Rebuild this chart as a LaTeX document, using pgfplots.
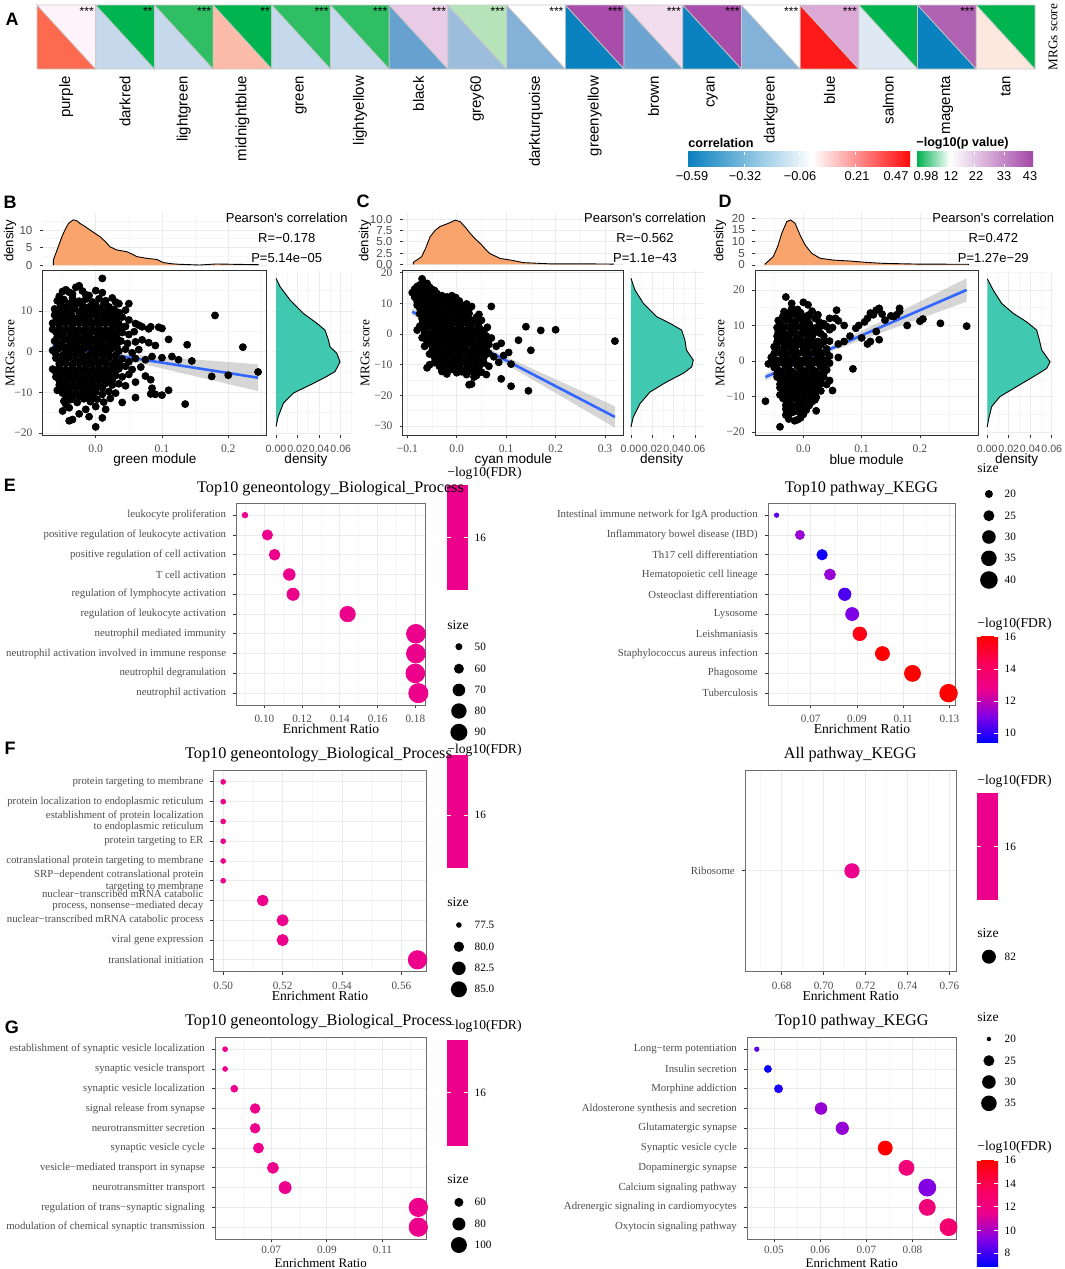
\documentclass[border=0pt]{standalone}
\usepackage{fontspec}
\setmainfont{Liberation Serif}
\newfontfamily\arial{Liberation Sans}
\usepackage{pgfplots}
\pgfplotsset{compat=1.18}
\newcommand\fs[1]{\fontsize{#1}{#1}\selectfont}

\definecolor{c20}{HTML}{333333}
\definecolor{c30}{HTML}{4D4D4D}
\definecolor{c60}{HTML}{6E6E6E}
\definecolor{gmaj}{HTML}{EBEBEB}
\definecolor{gmin}{HTML}{F5F5F5}
\definecolor{orng}{HTML}{F8A46C}
\definecolor{tealc}{HTML}{40C9B0}
\definecolor{smblue}{HTML}{3366FF}
\definecolor{bandc}{HTML}{999999}
\definecolor{cellln}{HTML}{C8C8C8}
\definecolor{cblue}{HTML}{0A80C0}
\definecolor{cred}{HTML}{FF0A0A}
\definecolor{pgreen}{HTML}{00B050}
\definecolor{ppurp}{HTML}{A347A6}
\definecolor{fdr0}{RGB}{0,0,255}
\definecolor{fdr1}{RGB}{130,0,230}
\definecolor{fdr2}{RGB}{236,0,140}
\definecolor{fdr3}{RGB}{250,0,90}
\definecolor{fdr4}{RGB}{255,0,0}
% heatmap: lower = correlation, upper = -log10 p
\definecolor{lA}{HTML}{FE6A50}\definecolor{uA}{HTML}{FDF3F9}
\definecolor{lB}{HTML}{C6D8EC}\definecolor{uB}{HTML}{00B450}
\definecolor{uC}{HTML}{2FBE63}
\definecolor{lD}{HTML}{FDBCAA}
\definecolor{lG}{HTML}{66A1CF}\definecolor{uG}{HTML}{E9CBE6}
\definecolor{lH}{HTML}{9DBDDD}\definecolor{uH}{HTML}{B6E3B9}
\definecolor{lI}{HTML}{84B1D8}\definecolor{uI}{HTML}{FFFFFF}
\definecolor{lJ}{HTML}{0A82C0}\definecolor{uJ}{HTML}{A84DA9}
\definecolor{lK}{HTML}{6EA4D1}\definecolor{uK}{HTML}{F1DDEE}
\definecolor{lN}{HTML}{FF1A1A}\definecolor{uN}{HTML}{DCA9D6}
\definecolor{lO}{HTML}{DEE9F4}
\definecolor{uP}{HTML}{B062B3}
\definecolor{lQ}{HTML}{FDE8E0}

\pgfdeclareverticalshading{fdrsh}{100bp}{color(0bp)=(fdr0); color(25bp)=(fdr0); color(37.5bp)=(fdr1); color(50bp)=(fdr2); color(62.5bp)=(fdr3); color(75bp)=(fdr4); color(100bp)=(fdr4)}

\newcommand\hcell[5]{%
  \addplot[fill=#3, draw=cellln, line width=0.35pt] coordinates {(#1,1) (#1,0) (#2,0)} --cycle;
  \addplot[fill=#4, draw=cellln, line width=0.35pt] coordinates {(#1,1) (#2,1) (#2,0)} --cycle;
  \node[anchor=north east, inner sep=0.8pt, font=\arial\fs{6pt}] at (axis cs:#2,1) {#5};}
\newcommand\sleg[5]{\fill[black] (#1,#2) circle[radius=#3pt];
  \node[anchor=west, inner sep=0pt, font=\fs{5.6pt}] at (#4,#2) {#5};}
\newcommand\cbtick[3]{\draw[white, line width=0.4pt] (#1,#3) -- ++(4,0) (#2,#3) -- ++(-4,0);}

\pgfplotsset{
  base/.style={scale only axis, anchor=north west, tick align=outside, tick pos=left,
    scaled ticks=false,
    major tick length=1.6pt, minor tick length=0pt, tick style={c20, line width=0.4pt},
    grid=both, major grid style={gmaj, line width=0.4pt}, minor grid style={gmin, line width=0.3pt}},
  scat/.style={base, axis line style={c20, line width=0.5pt},
    tick label style={font=\fs{5.8pt}, text=c30}},
  topd/.style={base, axis line style={draw=none}, xmajorticks=false,
    tick label style={font=\arial\fs{5.8pt}, text=c30}},
  rightd/.style={base, axis line style={draw=none}, ymajorticks=false,
    tick label style={font=\arial\fs{5.3pt}, text=c30},
    xtick={0,0.02,0.04,0.06}, xticklabels={0.00,0.02,0.04,0.06}, minor xtick={0.01,0.03,0.05,0.07}},
  dot/.style={base, axis line style={c60, line width=0.5pt}, ymin=0.4, ymax=10.6, ytick={1,...,10},
    tick label style={font=\fs{5.6pt}, text=c30},
    yticklabel style={align=right, font=\fontsize{5.4pt}{5.8pt}\selectfont},
    colormap={fdr}{rgb255=(0,0,255) rgb255=(130,0,230) rgb255=(236,0,140) rgb255=(250,0,90) rgb255=(255,0,0)}},
  dotpts/.style={scatter, only marks, mark=*, point meta=\thisrow{f},
    scatter/use mapped color={draw=mapped color, fill=mapped color},
    visualization depends on={\thisrow{r}\as\rr},
    scatter/@pre marker code/.append style={/tikz/mark size=\rr}},
  pts/.style={only marks, mark=*, mark size=1.75pt, mark options={draw=black, fill=black}},
}

\begin{document}
\begin{tikzpicture}
\path[use as bounding box] (0,0) rectangle (532.5pt,-634.5pt);

% ---------- A: heatmap ----------
\begin{axis}[scale only axis, anchor=north west, at={(18.5pt,-2.5pt)}, width=499pt, height=32pt,
  xmin=0, xmax=17, ymin=0, ymax=1, axis line style={draw=none}, ytick=\empty,
  xtick={0.5,1.5,...,16.5}, major tick length=0pt, clip=false,
  xticklabels={purple,darkred,lightgreen,midnightblue,green,lightyellow,black,grey60,darkturquoise,greenyellow,brown,cyan,darkgreen,blue,salmon,magenta,tan},
  xticklabel style={rotate=90, anchor=east, font=\arial\fs{7.5pt}}]
\hcell{0}{1}{lA}{uA}{***}
\hcell{1}{2}{lB}{uB}{**}
\hcell{2}{3}{lB}{uC}{***}
\hcell{3}{4}{lD}{uB}{**}
\hcell{4}{5}{lB}{uC}{***}
\hcell{5}{6}{lB}{uC}{***}
\hcell{6}{7}{lG}{uG}{***}
\hcell{7}{8}{lH}{uH}{***}
\hcell{8}{9}{lI}{uI}{***}
\hcell{9}{10}{lJ}{uJ}{***}
\hcell{10}{11}{lK}{uK}{***}
\hcell{11}{12}{lJ}{uJ}{***}
\hcell{12}{13}{lI}{uI}{***}
\hcell{13}{14}{lN}{uN}{***}
\hcell{14}{15}{lO}{uB}{}
\hcell{15}{16}{lJ}{uP}{***}
\hcell{16}{17}{lQ}{uB}{}
\end{axis}

% ---------- B ----------
\begin{axis}[topd, at={(21.35pt,-106.5pt)}, width=112pt, height=27pt,
  xmin=-0.08, xmax=0.258, ymin=-0.57, ymax=14.86,
  xtick={0,0.1,0.2}, minor xtick={-0.05,0.05,0.15,0.25},
  ytick={0,5,10}, yticklabels={0,5,10}, minor ytick={2.5,7.5,12.5}]
\addplot[fill=orng, draw=black, line width=0.45pt] coordinates {(-0.064,0) (-0.064,1.4) (-0.061,2.9) (-0.056,5.5) (-0.051,8.1) (-0.046,10.2) (-0.041,11.9) (-0.034,12.9) (-0.028,12.6) (-0.024,11.9) (-0.016,11.0) (-0.0086,10) (0.0065,8.1) (0.015,6.6) (0.0216,5.2) (0.0317,4.3) (0.047,3.8) (0.055,3.1) (0.062,2.4) (0.077,1.9) (0.092,1.6) (0.102,0.7) (0.115,0.35) (0.127,0.2) (0.157,0.0) (0.182,0.3) (0.208,0.2) (0.245,0.1) (0.245,0)};
\end{axis}
\begin{axis}[scat, at={(21.35pt,-135.35pt)}, width=112pt, height=82.15pt,
  xmin=-0.08, xmax=0.258, ymin=-20.5, ymax=19.9,
  xtick={0,0.1,0.2}, xticklabels={0.0,0.1,0.2}, minor xtick={-0.05,0.05,0.15,0.25},
  ytick={-20,-10,0,10}, yticklabels={−20,−10,0,10}, minor ytick={-15,-5,5,15}]
\addplot[pts] coordinates {
(0.01,18) (-0.045,15.2) (-0.03,15.8) (-0.04,14.6) (-0.02,14.9) (-0.055,13.6) (0.01,14.5) (-0.01,13.8) (-0.05,14.8)
(-0.058,12.5) (-0.048,12.8) (-0.035,13.2) (-0.025,12.4) (-0.015,12.9) (-0.005,12.2) (0.005,13) (0.015,12.5) (0.035,11.8) (0.05,11.8) (0.025,13.2) (-0.04,11.8) (0,11.5) (0.02,11)
(-0.062,10.5) (-0.052,10.8) (-0.042,10.2) (-0.032,10.6) (-0.022,10.1) (-0.012,10.8) (-0.002,10.3) (0.008,10.6) (0.018,9.9) (0.028,10.4) (0.045,10.2) (-0.057,9.4) (-0.037,9.2)
(-0.06,8.6) (-0.05,8.2) (-0.04,8.8) (-0.03,8.1) (-0.02,8.7) (-0.01,8.3) (0,8.9) (0.01,8.2) (0.02,8.6) (0.03,8.3) (0.04,8.5) (0.05,7.8) (-0.025,9.5) (0.015,9.3) (0.18,8.9)
(-0.065,7) (-0.055,6.5) (-0.045,7.1) (-0.035,6.4) (-0.025,7) (-0.015,6.3) (-0.005,6.9) (0.005,6.4) (0.015,7) (0.025,6.3) (0.035,6.8) (0.045,6.2) (0.06,6.9) (0.065,6.5) (0.07,6.1) (0.08,5.6) (0.095,6) (0.1,5.7) (0.083,6.1)
(-0.06,4.8) (-0.05,4.2) (-0.04,4.9) (-0.03,4.3) (-0.02,4.7) (-0.01,4.1) (0,4.8) (0.01,4.3) (0.02,4.6) (0.03,4.1) (0.04,4.7) (0.05,4.2) (0.058,4.9) (-0.065,5.5)
(-0.062,2.6) (-0.052,2.1) (-0.042,2.8) (-0.032,2.2) (-0.022,2.7) (-0.012,2.0) (-0.002,2.6) (0.008,2.1) (0.018,2.8) (0.028,2.3) (0.038,2.6) (0.048,2.0) (0.06,2.4) (0.07,2.9) (0.09,1.5) (0.11,3) (0.138,1.7) (0.08,2.2)
(-0.065,0.3) (-0.055,0.8) (-0.045,0.1) (-0.035,0.7) (-0.025,0.2) (-0.015,0.9) (-0.005,0.1) (0.005,0.6) (0.015,0.2) (0.025,0.8) (0.035,0.1) (0.045,0.6) (0.055,-0.3) (0.065,0.5) (0.222,1.1)
(-0.06,-1.6) (-0.05,-2.1) (-0.04,-1.5) (-0.03,-2.2) (-0.02,-1.7) (-0.01,-2.3) (0,-1.6) (0.01,-2.2) (0.02,-1.5) (0.03,-2.3) (0.04,-1.8) (0.05,-2.5) (0.06,-1.7) (0.075,-2.0) (0.1,-1.5) (0.115,-1.2) (0.125,-2) (0.145,-2.3) (0.085,-1.2)
(-0.065,-4.3) (-0.055,-3.8) (-0.045,-4.5) (-0.035,-3.9) (-0.025,-4.4) (-0.015,-3.8) (-0.005,-4.5) (0.005,-3.9) (0.015,-4.4) (0.025,-3.7) (0.035,-4.2) (0.045,-3.6) (0.055,-4.4) (0.068,-3.8)
(-0.06,-6.2) (-0.05,-5.8) (-0.04,-6.4) (-0.03,-5.7) (-0.02,-6.3) (-0.01,-5.9) (0,-6.5) (0.01,-5.8) (0.02,-6.4) (0.03,-5.9) (0.04,-6.2) (0.05,-5.6) (0.075,-6.0) (0.083,-6.9) (0.175,-6.1) (0.2,-5.8) (0.245,-5)
(-0.055,-8.2) (-0.045,-7.8) (-0.035,-8.4) (-0.025,-7.7) (-0.015,-8.3) (-0.005,-7.9) (0.005,-8.5) (0.015,-7.8) (0.025,-8.2) (0.035,-7.9) (0.045,-8.4) (0.06,-7.5) (0.085,-9.0)
(-0.05,-10.2) (-0.04,-9.8) (-0.03,-10.4) (-0.02,-9.7) (-0.01,-10.3) (0,-9.9) (0.01,-10.5) (0.02,-9.8) (0.03,-10.2) (0.09,-10.5) (0.1,-10.7) (0.11,-9.5) (0.083,-10.4) (-0.058,-9.5)
(-0.048,-12.2) (-0.038,-11.8) (-0.028,-12.5) (-0.018,-11.6) (-0.008,-12.3) (0.002,-11.7) (0.012,-12.4) (0.06,-11.3) (0.04,-12.5) (0.135,-12.9) (0.022,-11.5)
(-0.05,-14.6) (-0.04,-13.8) (-0.025,-15.3) (-0.015,-14.2) (0,-13.5) (0.015,-14.2) (0.01,-16.3) (-0.04,-17) (-0.035,-16.7) (-0.01,-16) (0,-18.5) (-0.045,-13)
(-0.035,14.2) (-0.015,14.0) (0.0,15.0) (-0.025,16.2)
(-0.053,11.5) (-0.043,11.2) (-0.03,11.7) (-0.02,11.4) (-0.008,11.2) (0.012,11.6) (0.03,12.2)
(-0.062,9.0) (-0.047,9.6) (-0.015,9.7) (-0.005,9.5) (0.005,9.8) (0.025,9.2) (0.035,9.6)
(-0.058,7.6) (-0.048,7.5) (-0.038,7.6) (-0.028,7.4) (-0.018,7.7) (-0.008,7.5) (0.002,7.6) (0.012,7.4) (0.022,7.6) (0.032,7.4)
(-0.055,5.6) (-0.045,5.5) (-0.035,5.7) (-0.025,5.4) (-0.015,5.6) (-0.005,5.5) (0.005,5.6) (0.015,5.4) (0.025,5.5) (0.035,5.6)
(-0.058,3.6) (-0.048,3.4) (-0.038,3.6) (-0.028,3.3) (-0.018,3.5) (-0.008,3.3) (0.002,3.6) (0.012,3.4) (0.022,3.5) (0.032,3.3)
(-0.058,1.4) (-0.048,1.2) (-0.038,1.5) (-0.028,1.3) (-0.018,1.4) (-0.008,1.2) (0.002,1.4) (0.012,1.3) (0.022,1.5) (0.032,1.2)
(-0.06,-0.7) (-0.05,-0.9) (-0.04,-0.6) (-0.03,-0.8) (-0.02,-0.7) (-0.01,-0.9) (0.0,-0.6) (0.01,-0.8) (0.02,-0.7) (0.03,-0.9)
(-0.055,-3.0) (-0.045,-2.9) (-0.035,-3.1) (-0.025,-2.9) (-0.015,-3.0) (-0.005,-3.1) (0.005,-2.9) (0.015,-3.0) (0.025,-3.1) (0.035,-2.9)
(-0.06,-5.1) (-0.05,-5.0) (-0.04,-5.2) (-0.03,-4.9) (-0.02,-5.1) (-0.01,-5.0) (0.0,-5.2) (0.01,-5.0) (0.02,-5.1) (0.03,-4.9)
(-0.055,-7.1) (-0.045,-6.9) (-0.035,-7.1) (-0.025,-7.0) (-0.015,-7.1) (-0.005,-6.9) (0.005,-7.0) (0.015,-7.1) (0.025,-7.0)
(-0.05,-9.0) (-0.04,-9.1) (-0.03,-8.9) (-0.02,-9.1) (-0.01,-9.0) (0.0,-9.1) (0.01,-8.9)
(-0.045,-11.0) (-0.035,-11.1) (-0.025,-10.9) (-0.015,-11.1) (-0.005,-11.0)};
\addplot[draw=none, fill=bandc, fill opacity=0.4] coordinates {(-0.065,2.5) (-0.03,1.25) (0,0.34) (0.05,-0.62) (0.1,-1.29) (0.15,-1.93) (0.2,-2.55) (0.245,-3.11) (0.245,-9.71) (0.2,-7.97) (0.15,-6.05) (0.1,-4.13) (0.05,-2.26) (0,-0.66) (-0.03,-0.05) (-0.065,0.5)} --cycle;
\addplot[smblue, line width=1.3pt] coordinates {(-0.065,1.5) (0.245,-6.41)};
\end{axis}
\begin{axis}[rightd, at={(136.5pt,-135.35pt)}, width=40.15pt, height=82.15pt,
  xmin=-0.0028, xmax=0.0716, ymin=-20.5, ymax=19.9,
  ytick={-20,-10,0,10}, minor ytick={-15,-5,5,15}]
\addplot[fill=tealc, draw=black, line width=0.45pt] coordinates {(0,18) (0.0037,16.0) (0.013,12.7) (0.0253,9.4) (0.0377,7.0) (0.0454,5.3) (0.0485,2.9) (0.050,1.2) (0.0563,-0.4) (0.0593,-2.5) (0.0547,-4.9) (0.047,-6.1) (0.0346,-7.8) (0.016,-10.2) (0.0068,-12.7) (0.002,-16) (0,-18.4)};
\end{axis}

% ---------- C ----------
\begin{axis}[topd, at={(201.35pt,-106.5pt)}, width=110.3pt, height=27pt,
  xmin=-0.1093, xmax=0.337, ymin=-0.6, ymax=11.4,
  xtick={-0.1,0,0.1,0.2,0.3}, minor xtick={-0.05,0.05,0.15,0.25},
  ytick={0,2.5,5,7.5,10}, yticklabels={0.0,2.5,5.0,7.5,10.0}]
\addplot[fill=orng, draw=black, line width=0.45pt] coordinates {(-0.0878,0) (-0.0878,0.44) (-0.0709,1.7) (-0.062,3.8) (-0.054,6.1) (-0.044,7.5) (-0.0338,8.4) (-0.017,9.1) (-0.0034,9.8) (0.0067,9.5) (0.017,8.3) (0.027,6.9) (0.037,5.7) (0.047,4.7) (0.057,3.5) (0.067,2.4) (0.0877,1.3) (0.108,0.96) (0.135,0.37) (0.189,0.1) (0.256,0.1) (0.317,0.05) (0.317,0)};
\end{axis}
\begin{axis}[scat, at={(201.35pt,-135.35pt)}, width=110.3pt, height=82.15pt,
  xmin=-0.1093, xmax=0.337, ymin=-32.9, ymax=20.65,
  xtick={-0.1,0,0.1,0.2,0.3}, xticklabels={−0.1,0.0,0.1,0.2,0.3}, minor xtick={-0.05,0.05,0.15,0.25},
  ytick={-30,-20,-10,0,10,20}, yticklabels={−30,−20,−10,0,10,20}, minor ytick={-25,-15,-5,5,15}]
\addplot[pts] coordinates {
(-0.07,18) (-0.065,15.5) (-0.075,16) (-0.06,16.5) (-0.055,15.3) (-0.05,14.5)
(-0.09,13.5) (-0.085,14.7) (-0.08,13.2) (-0.07,14) (-0.06,13.5) (-0.05,13) (-0.04,13.2) (-0.03,12.5) (-0.045,14.2)
(-0.08,10.5) (-0.072,11.5) (-0.065,10.8) (-0.055,11.7) (-0.045,10.6) (-0.035,11.3) (-0.025,10.5) (-0.015,11) (-0.005,11.6) (0.005,10.8) (-0.002,11.9)
(-0.075,8.5) (-0.065,7.6) (-0.055,8.8) (-0.045,7.8) (-0.035,8.6) (-0.025,7.5) (-0.015,8.5) (-0.005,7.7) (0.005,8.7) (0.015,7.6) (0.025,8.2) (0.03,9) (0.01,9.4) (-0.07,9.3)
(-0.07,5) (-0.06,5.8) (-0.05,4.6) (-0.04,5.7) (-0.03,4.5) (-0.02,5.6) (-0.01,4.4) (0,5.5) (0.01,4.6) (0.02,5.4) (0.03,4.5) (0.04,5.5) (0.05,4.5) (0.045,6.4) (-0.065,4.2) (0.07,9)
(-0.075,2.5) (-0.065,1.5) (-0.055,2.6) (-0.045,1.4) (-0.035,2.5) (-0.025,1.3) (-0.015,2.4) (-0.005,1.2) (0.005,2.3) (0.015,1.1) (0.025,2.2) (0.035,1.2) (0.045,2.3) (0.055,1.0) (0.062,2.2) (-0.08,1.3) (0.14,2.4) (0.17,1.2) (0.2,1.4)
(-0.07,-1.2) (-0.06,-0.3) (-0.05,-1.5) (-0.04,-0.4) (-0.03,-1.6) (-0.02,-0.5) (-0.01,-1.7) (0,-0.6) (0.01,-1.8) (0.02,-0.5) (0.03,-1.6) (0.04,-0.4) (0.05,-1.5) (0.06,-0.7) (0.07,-1.3) (0.125,-2) (0.32,-2.3)
(-0.065,-4) (-0.055,-3.2) (-0.045,-4.4) (-0.035,-3.3) (-0.025,-4.5) (-0.015,-3.4) (-0.005,-4.6) (0.005,-3.3) (0.015,-4.5) (0.025,-3.2) (0.035,-4.4) (0.045,-3.5) (0.055,-4.6) (0.065,-3.4) (0.08,-4) (0.15,-5.3) (0.09,-3)
(-0.055,-6.5) (-0.045,-7.5) (-0.035,-6.3) (-0.025,-7.6) (-0.015,-6.4) (-0.005,-7.7) (0.005,-6.5) (0.015,-7.8) (0.025,-6.6) (0.035,-7.6) (0.045,-6.4) (0.055,-7.5) (0.065,-6.3) (0.075,-7.4) (0.095,-7) (0.105,-6)
(-0.06,-11) (-0.055,-10) (-0.045,-9.3) (-0.035,-10.5) (-0.025,-9.4) (-0.015,-10.6) (-0.005,-9.5) (0.005,-10.4) (0.015,-9.3) (0.025,-10.6) (0.035,-9.6) (0.045,-10.7) (0.055,-9.4) (0.065,-10.5) (0.11,-9.8) (0.085,-9.2)
(-0.03,-12.2) (-0.02,-13) (0,-12.6) (0.01,-12.3) (0.02,-13.2) (0.03,-12.2) (0.04,-13.5) (0.05,-12.4) (0.06,-13.2) (0.09,-14.6) (0.035,-14)
(0.03,-16.3) (0.025,-16.5) (0.11,-17) (0.145,-18.5)
(-0.08,15.5) (-0.068,16.8) (-0.058,14.7)
(-0.085,12) (-0.075,12.3) (-0.065,12.1) (-0.055,12.4) (-0.045,12.0) (-0.035,12.2) (-0.02,12.1) (-0.01,12.5)
(-0.08,9.4) (-0.06,9.6) (-0.05,9.8) (-0.04,9.5) (-0.03,9.7) (-0.02,9.5) (-0.01,9.6) (0.0,9.4) (0.02,9.8)
(-0.075,6.6) (-0.065,6.4) (-0.055,6.7) (-0.045,6.5) (-0.035,6.6) (-0.025,6.4) (-0.015,6.7) (-0.005,6.5) (0.005,6.6) (0.015,6.4) (0.025,6.7)
(-0.07,3.4) (-0.06,3.6) (-0.05,3.4) (-0.04,3.6) (-0.03,3.4) (-0.02,3.5) (-0.01,3.3) (0,3.6) (0.01,3.4) (0.02,3.5) (0.03,3.3) (0.04,3.6)
(-0.065,0.3) (-0.055,0.1) (-0.045,0.4) (-0.035,0.2) (-0.025,0.3) (-0.015,0.1) (-0.005,0.3) (0.005,0.2) (0.015,0.4) (0.025,0.1) (0.035,0.3) (0.045,0.2) (0.055,0.1)
(-0.06,-2.5) (-0.05,-2.7) (-0.04,-2.5) (-0.03,-2.6) (-0.02,-2.7) (-0.01,-2.5) (0,-2.6) (0.01,-2.7) (0.02,-2.5) (0.03,-2.6) (0.04,-2.7) (0.05,-2.5) (0.06,-2.6)
(-0.05,-5.5) (-0.04,-5.3) (-0.03,-5.6) (-0.02,-5.4) (-0.01,-5.6) (0,-5.3) (0.01,-5.5) (0.02,-5.4) (0.03,-5.6) (0.04,-5.4) (0.05,-5.5) (0.06,-5.3)
(-0.04,-8.6) (-0.03,-8.4) (-0.02,-8.6) (-0.01,-8.5) (0,-8.6) (0.01,-8.4) (0.02,-8.6) (0.03,-8.5) (0.04,-8.6) (0.05,-8.4)
(-0.03,-11.4) (-0.02,-11.6) (-0.01,-11.5) (0,-11.4) (0.01,-11.6) (0.02,-11.5) (0.03,-11.4) (0.04,-11.6)};
\addplot[draw=none, fill=bandc, fill opacity=0.4] coordinates {(-0.09,8.44) (-0.045,4.29) (0,0.37) (0.05,-3.65) (0.1,-7.37) (0.15,-11.07) (0.2,-14.73) (0.26,-19.11) (0.32,-23.51) (0.32,-30.51) (0.26,-24.87) (0.2,-19.21) (0.15,-14.51) (0.1,-9.83) (0.05,-5.19) (0,-0.83) (-0.045,2.79) (-0.09,6.16)} --cycle;
\addplot[smblue, line width=1.3pt] coordinates {(-0.09,7.3) (0.32,-27.01)};
\end{axis}
\begin{axis}[rightd, at={(315pt,-135.35pt)}, width=36.65pt, height=82.15pt,
  xmin=-0.0009, xmax=0.0678, ymin=-32.9, ymax=20.65,
  ytick={-30,-20,-10,0,10,20}, minor ytick={-25,-15,-5,5,15}]
\addplot[fill=tealc, draw=black, line width=0.45pt] coordinates {(0,18.2) (0.0037,14.4) (0.0116,10) (0.024,5.7) (0.0366,3.5) (0.0475,1.3) (0.0506,-2) (0.052,-5.2) (0.0584,-8.5) (0.057,-10.7) (0.049,-12.8) (0.0334,-15.6) (0.0178,-18.9) (0.0084,-22.7) (0.0022,-27) (0,-30.3)};
\end{axis}

% ---------- D ----------
\begin{axis}[topd, at={(377.5pt,-106.5pt)}, width=111.65pt, height=27pt,
  xmin=-0.0829, xmax=0.300, ymin=-0.86, ymax=22.3,
  xtick={0,0.1,0.2}, minor xtick={-0.05,0.05,0.15,0.25},
  ytick={0,5,10,15,20}, yticklabels={0,5,10,15,20}]
\addplot[fill=orng, draw=black, line width=0.45pt] coordinates {(-0.0657,0) (-0.0657,0.43) (-0.0515,3.6) (-0.044,8) (-0.037,13.6) (-0.0285,18.6) (-0.0216,19.3) (-0.0142,17.9) (-0.0057,12.9) (0.003,8.6) (0.0144,5) (0.0286,2.9) (0.0515,2.1) (0.080,1.7) (0.109,1.1) (0.137,0.7) (0.194,0.4) (0.283,0.3) (0.283,0)};
\end{axis}
\begin{axis}[scat, at={(377.5pt,-135.35pt)}, width=111.65pt, height=82.15pt,
  xmin=-0.0829, xmax=0.300, ymin=-20.8, ymax=25.4,
  xtick={0,0.1,0.2}, xticklabels={0.0,0.1,0.2}, minor xtick={-0.05,0.05,0.15,0.25},
  ytick={-20,-10,0,10,20}, yticklabels={−20,−10,0,10,20}, minor ytick={-15,-5,5,15,25}]
\addplot[pts] coordinates {
(-0.03,18) (-0.02,14.7) (0.008,15.8) (0.015,14) (-0.01,14.5) (-0.025,13.5)
(-0.04,10.3) (-0.03,11.5) (-0.02,10.8) (-0.01,12.2) (0,11) (0.01,10.5) (0.02,12) (0.03,9.8) (0.035,10.5) (-0.035,9.5)
(-0.045,7) (-0.035,8.2) (-0.025,6.7) (-0.015,8.4) (-0.005,6.6) (0.005,8.3) (0.015,6.8) (0.025,8.1) (0.035,7) (0.045,8.8) (0.05,9.4) (-0.04,5.9) (0.055,12) (0.06,11.3) (0.057,14.3) (0.045,12) (0.07,10)
(-0.05,4) (-0.04,3.2) (-0.03,4.4) (-0.02,3.3) (-0.01,4.5) (0,3.1) (0.01,4.3) (0.02,3.2) (0.03,4.6) (0.04,3.4) (0.06,4.8) (0.07,5.5) (0.08,7) (0.09,9.2) (0.1,6.5) (0.11,4.8) (0.115,5.5) (0.125,8.3) (0.13,6)
(-0.055,1) (-0.045,0.2) (-0.035,1.4) (-0.025,0.3) (-0.015,1.5) (-0.005,0.2) (0.005,1.3) (0.015,0.1) (0.025,1.2) (0.035,0.3) (0.045,1.4) (0.06,1) (-0.06,-0.8)
(-0.05,-1.8) (-0.04,-2.8) (-0.03,-1.6) (-0.02,-2.9) (-0.01,-1.5) (0,-2.7) (0.01,-1.6) (0.02,-2.8) (0.03,-1.7) (0.04,-2.5) (0.085,-2.2)
(-0.045,-4.5) (-0.035,-5.5) (-0.025,-4.3) (-0.015,-5.6) (-0.005,-4.4) (0.005,-5.5) (0.015,-4.3) (0.025,-5.4) (0.035,-4.5) (0.045,-5.5) (0.05,-8.3) (0.04,-6.6)
(-0.04,-7.5) (-0.03,-8.6) (-0.02,-7.4) (-0.01,-8.7) (0,-7.3) (0.01,-8.5) (0.02,-7.6) (0.03,-8.4) (-0.035,-6.8)
(-0.035,-10.5) (-0.025,-11.5) (-0.015,-10.3) (-0.005,-11.6) (0.005,-10.4) (0.015,-11.4) (0.022,-10.2) (-0.065,-11.3) (0.022,-14)
(-0.03,-13.5) (-0.02,-14.5) (-0.01,-13.2) (0,-15) (-0.01,-16.5) (-0.03,-15.2) (-0.015,-16.8) (-0.04,-18.5) (-0.005,-14)
(0.28,9.8) (0.235,10.6) (0.205,11.8) (0.2,11.2) (0.178,10) (0.165,14.8) (0.16,13) (0.155,12.5) (0.13,14.8) (0.125,14.3) (0.12,13) (0.11,12) (0.14,11.5) (0.15,12.7) (0.095,10) (0.105,11) (0.115,13.5) (0.165,14) (0.135,13.2)
(-0.02,16.2) (0.0,16.5)
(-0.035,12.6) (-0.025,12.8) (-0.015,13.2) (0.005,12.6) (0.025,13.0)
(-0.045,9.4) (-0.03,9.6) (-0.02,9.3) (-0.01,9.7) (0,9.4) (0.01,9.6) (0.02,9.3) (0.04,9.7)
(-0.045,5.4) (-0.035,5.6) (-0.025,5.3) (-0.015,5.6) (-0.005,5.4) (0.005,5.6) (0.015,5.3) (0.025,5.5) (0.035,5.4) (0.045,5.6)
(-0.05,2.1) (-0.04,2.3) (-0.03,2.0) (-0.02,2.2) (-0.01,2.1) (0,2.3) (0.01,2.0) (0.02,2.2) (0.03,2.1) (0.04,2.3)
(-0.055,-0.6) (-0.045,-0.8) (-0.035,-0.6) (-0.025,-0.8) (-0.015,-0.6) (-0.005,-0.8) (0.005,-0.6) (0.015,-0.8) (0.025,-0.6) (0.035,-0.8) (0.045,-0.6)
(-0.045,-3.6) (-0.035,-3.5) (-0.025,-3.7) (-0.015,-3.5) (-0.005,-3.7) (0.005,-3.5) (0.015,-3.7) (0.025,-3.6) (0.035,-3.5)
(-0.04,-6.5) (-0.03,-6.3) (-0.02,-6.5) (-0.01,-6.3) (0,-6.5) (0.01,-6.3) (0.02,-6.5) (0.03,-6.4)
(-0.04,-9.5) (-0.03,-9.6) (-0.02,-9.4) (-0.01,-9.6) (0,-9.4) (0.01,-9.5) (0.02,-9.6)
(-0.03,-12.4) (-0.02,-12.6) (-0.01,-12.4) (0,-12.6) (0.01,-12.5)
(-0.033,13.9) (-0.005,13.6) (0.01,13.0)
(-0.043,11.4) (-0.023,11.8) (-0.013,10.9) (-0.003,11.9) (0.007,11.5) (0.027,11.0)
(-0.043,8.1) (-0.033,7.4) (-0.023,7.8) (-0.013,7.3) (-0.003,7.9) (0.007,7.3) (0.017,7.9) (0.03,7.7)
(-0.045,4.8) (-0.033,4.9) (-0.023,4.6) (-0.013,4.9) (-0.003,4.6) (0.007,4.8) (0.017,4.6) (0.027,4.4)
(-0.043,2.8) (-0.033,3.2) (-0.013,2.8) (0.007,2.8) (0.027,2.9)
(-0.05,0) (-0.04,-0.2) (-0.03,0.2) (-0.02,-0.1) (-0.01,0) (0,-0.2) (0.01,0.1) (0.02,-0.2) (0.03,0.1) (0.04,-0.1)
(-0.045,-2.3) (-0.025,-2.2) (-0.005,-2.2) (0.015,-2.3) (0.035,-2.2)
(-0.04,-5) (-0.03,-4.8) (-0.02,-5) (-0.01,-4.9) (0,-5) (0.01,-4.9) (0.02,-5) (0.03,-4.9)
(-0.035,-8) (-0.025,-7.9) (-0.015,-8) (-0.005,-7.9) (0.005,-8) (0.015,-7.9) (0.025,-8)
(-0.03,-11) (-0.02,-10.8) (-0.01,-11) (0,-10.9) (0.01,-11) (0.02,-10.9)
(-0.025,-14) (-0.015,-14.2) (-0.005,-14.6) (0.005,-13.8)
(-0.025,-16.3) (-0.005,-16)};
\addplot[draw=none, fill=bandc, fill opacity=0.4] coordinates {(-0.065,-3.57) (-0.03,-1.38) (0,0.67) (0.05,4.47) (0.1,8.5) (0.15,12.6) (0.2,16.71) (0.28,23.29) (0.28,16.69) (0.2,11.93) (0.15,8.94) (0.1,5.94) (0.05,2.87) (0,-0.43) (-0.03,-2.66) (-0.065,-5.43)} --cycle;
\addplot[smblue, line width=1.3pt] coordinates {(-0.065,-4.5) (0.28,19.99)};
\end{axis}
\begin{axis}[rightd, at={(493.35pt,-135.35pt)}, width=33.15pt, height=82.15pt,
  xmin=-0.00056, xmax=0.0612, ymin=-20.8, ymax=25.4,
  ytick={-20,-10,0,10,20}, minor ytick={-15,-5,5,15,25}]
\addplot[fill=tealc, draw=black, line width=0.45pt] coordinates {(0,23.1) (0.0056,19.9) (0.0134,16.2) (0.0242,13.4) (0.0367,11) (0.046,8.7) (0.0485,5.9) (0.0507,3.1) (0.0584,-0.2) (0.0553,-2.1) (0.043,-4.4) (0.0273,-7.2) (0.0118,-10) (0.0041,-12.8) (0.001,-16.6) (0,-18.5)};
\end{axis}

% ---------- E ----------
\begin{axis}[dot, at={(118.15pt,-251.65pt)}, width=94.7pt, height=100.85pt,
  xmin=0.0851, xmax=0.1855, xtick={0.10,0.12,0.14,0.16,0.18}, xticklabels={0.10,0.12,0.14,0.16,0.18},
  minor xtick={0.09,0.11,0.13,0.15,0.17}, point meta min=15, point meta max=17,
  yticklabels={neutrophil activation,neutrophil degranulation,neutrophil activation involved in immune response,neutrophil mediated immunity,regulation of leukocyte activation,regulation of lymphocyte activation,T cell activation,positive regulation of cell activation,positive regulation of leukocyte activation,leukocyte proliferation}]
\addplot[dotpts] table {
x y r f
0.0897 10 1.4 16
0.1016 9 2.55 16
0.1054 8 2.7 16
0.1132 7 2.9 16
0.1152 6 3.05 16
0.1441 5 3.85 16
0.1803 4 4.7 16
0.1803 3 4.7 16
0.1800 2 4.7 16
0.1816 1 4.8 16
};
\end{axis}
\begin{axis}[dot, at={(384pt,-251.65pt)}, width=93.85pt, height=100.85pt,
  xmin=0.0515, xmax=0.1327, xtick={0.07,0.09,0.11,0.13}, xticklabels={0.07,0.09,0.11,0.13},
  minor xtick={0.06,0.08,0.10,0.12}, point meta min=9.42, point meta max=16,
  yticklabels={Tuberculosis,Phagosome,Staphylococcus aureus infection,Leishmaniasis,Lysosome,Osteoclast differentiation,Hematopoietic cell lineage,Th17 cell differentiation,Inflammatory bowel disease (IBD),Intestinal immune network for IgA production}]
\addplot[dotpts] table {
x y r f
0.0552 10 1.1 10.5
0.0653 9 2.25 11.4
0.0749 8 2.6 9.6
0.0783 7 2.75 11.4
0.0847 6 3.1 10.4
0.0879 5 3.25 11.0
0.0912 4 3.4 15.7
0.1010 3 3.5 16
0.1140 2 4.0 16
0.1296 1 4.4 16
};
\end{axis}

% ---------- F ----------
\begin{axis}[dot, at={(106.85pt,-385pt)}, width=106.35pt, height=100.85pt,
  xmin=0.4968, xmax=0.5684, xtick={0.50,0.52,0.54,0.56}, xticklabels={0.50,0.52,0.54,0.56},
  minor xtick={0.51,0.53,0.55}, point meta min=15, point meta max=17,
  yticklabels={translational initiation,viral gene expression,nuclear−transcribed mRNA catabolic process,{nuclear−transcribed mRNA catabolic\\process, nonsense−mediated decay},{SRP−dependent cotranslational protein\\targeting to membrane},cotranslational protein targeting to membrane,protein targeting to ER,{establishment of protein localization\\to endoplasmic reticulum},protein localization to endoplasmic reticulum,protein targeting to membrane}]
\addplot[dotpts] table {
x y r f
0.5 10 1.2 16
0.5 9 1.2 16
0.5 8 1.2 16
0.5 7 1.2 16
0.5 6 1.2 16
0.5 5 1.2 16
0.5133 4 2.7 16
0.52 3 2.8 16
0.52 2 2.8 16
0.5654 1 4.6 16
};
\end{axis}
\begin{axis}[dot, at={(372.5pt,-385pt)}, width=105.7pt, height=100.85pt,
  xmin=0.6625, xmax=0.7633, ymin=0.4, ymax=1.6, ytick={1}, yticklabels={Ribosome},
  xtick={0.68,0.70,0.72,0.74,0.76}, xticklabels={0.68,0.70,0.72,0.74,0.76},
  minor xtick={0.67,0.69,0.71,0.73,0.75}, point meta min=15, point meta max=17]
\addplot[dotpts] table {
x y r f
0.7135 1 3.6 16
};
\end{axis}

% ---------- G ----------
\begin{axis}[dot, at={(107.55pt,-518.65pt)}, width=105.65pt, height=100.85pt,
  xticklabel shift=-1.5pt,
  xmin=0.0498, xmax=0.1258, xtick={0.07,0.09,0.11}, xticklabels={0.07,0.09,0.11},
  minor xtick={0.06,0.08,0.10,0.12}, point meta min=15, point meta max=17,
  yticklabels={modulation of chemical synaptic transmission,regulation of trans−synaptic signaling,neurotransmitter transport,vesicle−mediated transport in synapse,synaptic vesicle cycle,neurotransmitter secretion,signal release from synapse,synaptic vesicle localization,synaptic vesicle transport,establishment of synaptic vesicle localization}]
\addplot[dotpts] table {
x y r f
0.0534 10 1.2 16
0.0534 9 1.2 16
0.0567 8 1.7 16
0.0642 7 2.4 16
0.0642 6 2.4 16
0.0654 5 2.5 16
0.0706 4 2.75 16
0.0750 3 3.0 16
0.1229 2 4.6 16
0.1229 1 4.6 16
};
\end{axis}
\begin{axis}[dot, at={(373.55pt,-518.65pt)}, width=104.65pt, height=100.85pt,
  xticklabel shift=-1.5pt,
  xmin=0.0442, xmax=0.0895, xtick={0.05,0.06,0.07,0.08}, xticklabels={0.05,0.06,0.07,0.08},
  minor xtick={0.045,0.055,0.065,0.075,0.085}, point meta min=6.9, point meta max=16,
  yticklabels={Oxytocin signaling pathway,Adrenergic signaling in cardiomyocytes,Calcium signaling pathway,Dopaminergic synapse,Synaptic vesicle cycle,Glutamatergic synapse,Aldosterone synthesis and secretion,Morphine addiction,Insulin secretion,Long−term potentiation}]
\addplot[dotpts] table {
x y r f
0.0463 10 1.1 8.5
0.0487 9 1.75 7.1
0.0510 8 2.0 7.4
0.0602 7 2.9 9.6
0.0648 6 3.1 9.6
0.0741 5 3.5 16
0.0787 4 3.75 12.4
0.0832 3 4.25 9.2
0.0832 2 4.0 12.4
0.0878 1 4.25 12.8
};
\end{axis}

% ---------- text, legends ----------
\begin{scope}[x=0.5pt, y=-0.5pt]
\node[font=\arial\bfseries\fs{9pt}] at (12,19) {A};
\node[font=\arial\bfseries\fs{9pt}] at (10,202) {B};
\node[font=\arial\bfseries\fs{9pt}] at (363,201) {C};
\node[font=\arial\bfseries\fs{9pt}] at (725,201) {D};
\node[font=\arial\bfseries\fs{9pt}] at (10,485) {E};
\node[font=\arial\bfseries\fs{9pt}] at (10,748) {F};
\node[font=\arial\bfseries\fs{9pt}] at (12,1027) {G};

\node[rotate=90, font=\fs{6.6pt}] at (1053,37) {MRGs score};
% A legends
\node[anchor=west, inner sep=0pt, font=\arial\bfseries\fs{6.3pt}] at (688,143.3) {correlation};
\node[anchor=west, inner sep=0pt, font=\arial\bfseries\fs{6.3pt}] at (916,143.3) {−log10(p value)};
\shade[left color=cblue, right color=white] (688,151.7) rectangle (812,166.7);
\shade[left color=white, right color=cred] (812,151.7) rectangle (910,166.7);
\shade[left color=pgreen, right color=white] (917,151.7) rectangle (950,166.7);
\shade[left color=white, right color=ppurp] (950,151.7) rectangle (1033,166.7);
\foreach \t in {744.5,799,855.5}{\draw[white, line width=0.4pt] (\t,151.7) -- (\t,154.7) (\t,163.7) -- (\t,166.7);}
\foreach \t in {947,974,1004}{\draw[white, line width=0.4pt] (\t,151.7) -- (\t,154.7) (\t,163.7) -- (\t,166.7);}
\foreach \x/\l in {692/−0.59,745/−0.32,800/−0.06,857/0.21,896/0.47,926/0.98,951/12,976/22,1004/33,1030/43}
  {\node[font=\arial\fs{6.4pt}, inner sep=0pt] at (\x,176) {\l};}

% B-D labels
\node[rotate=90, font=\arial\fs{6.6pt}] at (10,241) {density};
\node[rotate=90, font=\fs{6.6pt}] at (10,353) {MRGs score};
\node[font=\arial\fs{6.8pt}] at (155,460) {green module};
\node[font=\arial\fs{6.8pt}] at (306,460) {density};
\node[font=\arial\fs{6.5pt}] at (286.7,218.3) {Pearson's correlation};
\node[font=\arial\fs{6.5pt}] at (286.7,238.3) {R=−0.178};
\node[font=\arial\fs{6.5pt}] at (286.7,258.3) {P=5.14e−05};

\node[rotate=90, font=\arial\fs{6.6pt}] at (365,241) {density};
\node[rotate=90, font=\fs{6.6pt}] at (365,353) {MRGs score};
\node[font=\arial\fs{6.8pt}] at (513.3,460) {cyan module};
\node[font=\arial\fs{6.8pt}] at (661.7,460) {density};
\node[font=\arial\fs{6.5pt}] at (645,218.3) {Pearson's correlation};
\node[font=\arial\fs{6.5pt}] at (645,238.3) {R=−0.562};
\node[font=\arial\fs{6.5pt}] at (645,258.3) {P=1.1e−43};

\node[rotate=90, font=\arial\fs{6.6pt}] at (720,241) {density};
\node[rotate=90, font=\fs{6.6pt}] at (720,353) {MRGs score};
\node[font=\arial\fs{6.8pt}] at (866.7,460) {blue module};
\node[font=\arial\fs{6.8pt}] at (1016.7,460) {density};
\node[font=\arial\fs{6.5pt}] at (993.3,218.3) {Pearson's correlation};
\node[font=\arial\fs{6.5pt}] at (993.3,238.3) {R=0.472};
\node[font=\arial\fs{6.5pt}] at (993.3,258.3) {P=1.27e−29};

% E legends and titles
\node[anchor=west, inner sep=0pt, font=\fs{6.8pt}] at (447,473.3) {−log10(FDR)};
\fill[fdr2] (446.9,485) rectangle (468.2,590);
\cbtick{446.9}{468.2}{537.7}
\node[anchor=west, inner sep=0pt, font=\fs{5.6pt}] at (474.3,537.7) {16};
\node[anchor=west, inner sep=0pt, font=\fs{6.8pt}] at (447,625) {size};
\sleg{458.9}{646.7}{1.75}{474.3}{50}
\sleg{458.9}{668.7}{2.5}{474.3}{60}
\sleg{458.9}{690}{3.15}{474.3}{70}
\sleg{458.9}{711}{3.85}{474.3}{80}
\sleg{458.9}{732.3}{4.25}{474.3}{90}
\node[font=\fs{8.1pt}] at (330.5,488.3) {Top10 geneontology\_Biological\_Process};
\node[font=\fs{6.8pt}] at (331,729) {Enrichment Ratio};

\node[font=\fs{8.1pt}] at (861.5,488.3) {Top10 pathway\_KEGG};
\node[font=\fs{6.8pt}] at (862,729) {Enrichment Ratio};
\node[anchor=west, inner sep=0pt, font=\fs{6.8pt}] at (977,468) {size};
\sleg{988.9}{494}{2}{1004.3}{20}
\sleg{988.9}{515.7}{2.75}{1004.3}{25}
\sleg{988.9}{537}{3.4}{1004.3}{30}
\sleg{988.9}{558.3}{3.9}{1004.3}{35}
\sleg{988.9}{580}{4.4}{1004.3}{40}
\node[anchor=west, inner sep=0pt, font=\fs{6.8pt}] at (977,624) {−log10(FDR)};
\shade[shading=fdrsh] (976.9,636.7) rectangle (998.2,742.7);
\foreach \y/\l in {636.7/16,669/14,701/12,733.3/10}
  {\cbtick{976.9}{998.2}{\y} \node[anchor=west, inner sep=0pt, font=\fs{5.6pt}] at (1004.3,\y) {\l};}

% F legends and titles
\node[anchor=west, inner sep=0pt, font=\fs{6.8pt}] at (447,750) {−log10(FDR)};
\fill[fdr2] (446.9,755) rectangle (468.2,868.3);
\cbtick{446.9}{468.2}{815}
\node[anchor=west, inner sep=0pt, font=\fs{5.6pt}] at (474.3,815) {16};
\node[anchor=west, inner sep=0pt, font=\fs{6.8pt}] at (447,902.3) {size};
\sleg{458.9}{925}{1.4}{474.3}{77.5}
\sleg{458.9}{946.7}{2.6}{474.3}{80.0}
\sleg{458.9}{968.3}{3.4}{474.3}{82.5}
\sleg{458.9}{989.3}{4}{474.3}{85.0}
\node[font=\fs{8.1pt}] at (318.5,755) {Top10 geneontology\_Biological\_Process};
\node[font=\fs{6.8pt}] at (320,996) {Enrichment Ratio};

\node[font=\fs{8.1pt}] at (850.2,755) {All pathway\_KEGG};
\node[font=\fs{6.8pt}] at (850.7,996) {Enrichment Ratio};
\node[anchor=west, inner sep=0pt, font=\fs{6.8pt}] at (977,781.7) {−log10(FDR)};
\fill[fdr2] (976.9,793.3) rectangle (998.2,900);
\cbtick{976.9}{998.2}{846.7}
\node[anchor=west, inner sep=0pt, font=\fs{5.6pt}] at (1004.3,846.7) {16};
\node[anchor=west, inner sep=0pt, font=\fs{6.8pt}] at (977,933.3) {size};
\sleg{988.9}{956.7}{3.5}{1004.3}{82}

% G legends and titles
\node[anchor=west, inner sep=0pt, font=\fs{6.8pt}] at (447,1026.7) {−log10(FDR)};
\fill[fdr2] (446.9,1040) rectangle (468.2,1145.7);
\cbtick{446.9}{468.2}{1092.7}
\node[anchor=west, inner sep=0pt, font=\fs{5.6pt}] at (474.3,1092.7) {16};
\node[anchor=west, inner sep=0pt, font=\fs{6.8pt}] at (447,1179) {size};
\sleg{458.9}{1202.3}{2.25}{474.3}{60}
\sleg{458.9}{1224}{3.25}{474.3}{80}
\sleg{458.9}{1245}{4}{474.3}{100}
\node[font=\fs{8.1pt}] at (318.5,1021.7) {Top10 geneontology\_Biological\_Process};
\node[anchor=base, inner sep=0pt, font=\fs{6.5pt}] at (320.7,1267.5) {Enrichment Ratio};

\node[font=\fs{8.1pt}] at (852,1021.7) {Top10 pathway\_KEGG};
\node[anchor=base, inner sep=0pt, font=\fs{6.5pt}] at (851.7,1267.5) {Enrichment Ratio};
\node[anchor=west, inner sep=0pt, font=\fs{6.8pt}] at (977,1016.7) {size};
\sleg{988.9}{1039}{1.1}{1004.3}{20}
\sleg{988.9}{1060.7}{2.75}{1004.3}{25}
\sleg{988.9}{1082}{3.4}{1004.3}{30}
\sleg{988.9}{1103.3}{3.9}{1004.3}{35}
\node[anchor=west, inner sep=0pt, font=\fs{6.8pt}] at (977,1147.7) {−log10(FDR)};
\shade[shading=fdrsh] (976.9,1160) rectangle (998.2,1266);
\foreach \y/\l in {1160/16,1183.3/14,1206.7/12,1230.7/10,1253.3/8}
  {\cbtick{976.9}{998.2}{\y} \node[anchor=west, inner sep=0pt, font=\fs{5.6pt}] at (1004.3,\y) {\l};}
\end{scope}
\end{tikzpicture}
\end{document}
